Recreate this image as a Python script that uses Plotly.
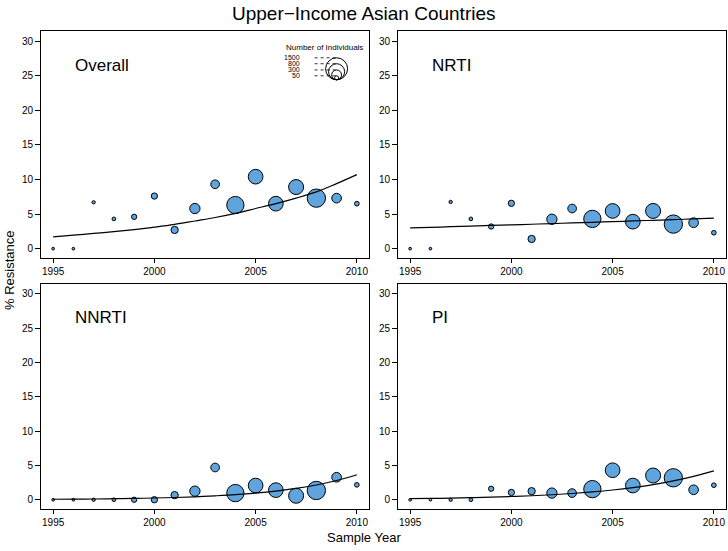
import plotly.graph_objects as go

# sample years and number of individuals per year (bubble size)
years = list(range(1995, 2011))
n_indiv = [23, 23, 34, 42, 87, 123, 165, 330, 235, 930, 670, 670, 700, 1040, 290, 68]

# % resistance per year
overall = [0, 0, 6.7, 4.3, 4.6, 7.6, 2.7, 5.8, 9.3, 6.3, 10.4, 6.5, 8.9, 7.3, 7.3, 6.5]
nrti = [0, 0, 6.75, 4.3, 3.2, 6.55, 1.4, 4.25, 5.8, 4.3, 5.45, 3.9, 5.45, 3.55, 3.75, 2.3]
nnrti = [0, 0, 0, 0, 0, 0, 0.67, 1.25, 4.7, 0.97, 2.07, 1.4, 0.58, 1.35, 3.28, 2.17]
pi = [0, 0, 0, 0, 1.6, 1.06, 1.25, 0.97, 0.97, 1.55, 4.3, 2.07, 3.53, 3.2, 1.45, 2.12]

# fitted trend lines at each year
fit_overall = [1.7, 1.95, 2.2, 2.45, 2.75, 3.1, 3.5, 4.0, 4.5, 5.1, 5.8, 6.5, 7.3, 8.2, 9.4, 10.7]
fit_nrti = [3.0, 3.08, 3.17, 3.26, 3.35, 3.44, 3.53, 3.62, 3.72, 3.81, 3.91, 4.0, 4.1, 4.2, 4.3, 4.4]
fit_nnrti = [0.07, 0.09, 0.11, 0.15, 0.19, 0.25, 0.33, 0.43, 0.57, 0.74, 0.97, 1.27, 1.65, 2.15, 2.8, 3.65]
fit_pi = [0.15, 0.19, 0.24, 0.3, 0.37, 0.47, 0.58, 0.73, 0.91, 1.14, 1.42, 1.77, 2.2, 2.75, 3.4, 4.2]

legend_sizes = [1500, 800, 300, 50]
panel_names = ["Overall", "NRTI", "NNRTI", "PI"]

W, H = 728, 551
FONT = "Liberation Sans, Arial, sans-serif"
BLUE = "#5FA4DC"


def diam(n):
    return 22 * (n / 1500) ** 0.5


panels = [
    (overall, fit_overall, "x", "y"),
    (nrti, fit_nrti, "x2", "y2"),
    (nnrti, fit_nnrti, "x3", "y3"),
    (pi, fit_pi, "x4", "y4"),
]

fig = go.Figure()
for vals, fit, xa, ya in panels:
    fig.add_trace(go.Scatter(
        x=years, y=vals, mode="markers", xaxis=xa, yaxis=ya,
        marker=dict(size=[diam(n) for n in n_indiv], color=BLUE,
                    line=dict(color="black", width=1), opacity=1),
        showlegend=False, hoverinfo="x+y"))
    fig.add_trace(go.Scatter(
        x=years, y=fit, mode="lines", xaxis=xa, yaxis=ya,
        line=dict(color="black", width=1.2, shape="spline"),
        showlegend=False, hoverinfo="skip"))

# panel boxes (pixels)
left_dom = [41 / W, 369 / W]
right_dom = [398 / W, 726 / W]
top_dom = [1 - 258 / H, 1 - 31 / H]
bot_dom = [1 - 509 / H, 1 - 284 / H]

xax = dict(range=[1994.4, 2010.6], tickvals=[1995, 2000, 2005, 2010],
           showline=True, mirror=True, linecolor="black", linewidth=1,
           ticks="outside", ticklen=4, tickcolor="black", showgrid=False,
           zeroline=False, tickfont=dict(size=10, color="black", family=FONT))
yax = dict(range=[-1.35, 31.45], tickvals=[0, 5, 10, 15, 20, 25, 30],
           showline=True, mirror=True, linecolor="black", linewidth=1,
           ticks="outside", ticklen=5, tickcolor="black", showgrid=False,
           zeroline=False, tickfont=dict(size=10, color="black", family=FONT))

fig.update_layout(
    width=W, height=H, margin=dict(l=0, r=0, t=0, b=0),
    paper_bgcolor="white", plot_bgcolor="white",
    font=dict(family=FONT, color="black"),
    xaxis=dict(xax, domain=left_dom, anchor="y"),
    yaxis=dict(yax, domain=top_dom, anchor="x"),
    xaxis2=dict(xax, domain=right_dom, anchor="y2"),
    yaxis2=dict(yax, domain=top_dom, anchor="x2"),
    xaxis3=dict(xax, domain=left_dom, anchor="y3"),
    yaxis3=dict(yax, domain=bot_dom, anchor="x3"),
    xaxis4=dict(xax, domain=right_dom, anchor="y4"),
    yaxis4=dict(yax, domain=bot_dom, anchor="x4"),
)

ann = []
# panel names
for name, (xa, ya) in zip(panel_names, [("x", "y"), ("x2", "y2"), ("x3", "y3"), ("x4", "y4")]):
    ann.append(dict(text=name, x=1996, y=26.5, xref=xa, yref=ya, xanchor="left",
                    yanchor="middle", showarrow=False, font=dict(size=17)))

ann.append(dict(text="Upper\u2212Income Asian Countries", x=0.5, y=1 - 13 / H,
                xref="paper", yref="paper", xanchor="center", yanchor="middle",
                showarrow=False, font=dict(size=19)))
ann.append(dict(text="Sample Year", x=0.5, y=1 - 537 / H, xref="paper", yref="paper",
                xanchor="center", yanchor="middle", showarrow=False, font=dict(size=13)))
ann.append(dict(text="% Resistance", x=9 / W, y=1 - 271 / H, xref="paper", yref="paper",
                xanchor="center", yanchor="middle", showarrow=False, textangle=-90,
                font=dict(size=13)))

# size legend inside the Overall panel
lx, ly = 2009, 24.4
shapes = []
for n in legend_sizes:
    d = diam(n)
    shapes.append(dict(type="circle", xref="x", yref="y", xsizemode="pixel", ysizemode="pixel",
                       xanchor=lx, yanchor=ly, x0=-d / 2, x1=d / 2, y0=0, y1=d,
                       line=dict(color="black", width=1)))
    shapes.append(dict(type="line", xref="x", yref="y", xsizemode="pixel", ysizemode="pixel",
                       xanchor=lx, yanchor=ly, x0=-22, x1=0, y0=d, y1=d,
                       line=dict(color="black", width=0.8, dash="dot")))
    ann.append(dict(text=str(n), x=lx, y=ly, xref="x", yref="y", xshift=-35, yshift=d,
                    xanchor="right", yanchor="middle", showarrow=False,
                    font=dict(size=7, color="black")))
ann.append(dict(text="Number of Individuals", x=lx, y=ly, xref="x", yref="y",
                xshift=-12, yshift=32, xanchor="center", yanchor="middle",
                showarrow=False, font=dict(size=8, color="black")))

fig.update_layout(annotations=ann, shapes=shapes)

fig.write_html("out.html", config={"displayModeBar": False},
               post_script="document.body.style.margin='0';document.body.style.overflow='hidden';")
